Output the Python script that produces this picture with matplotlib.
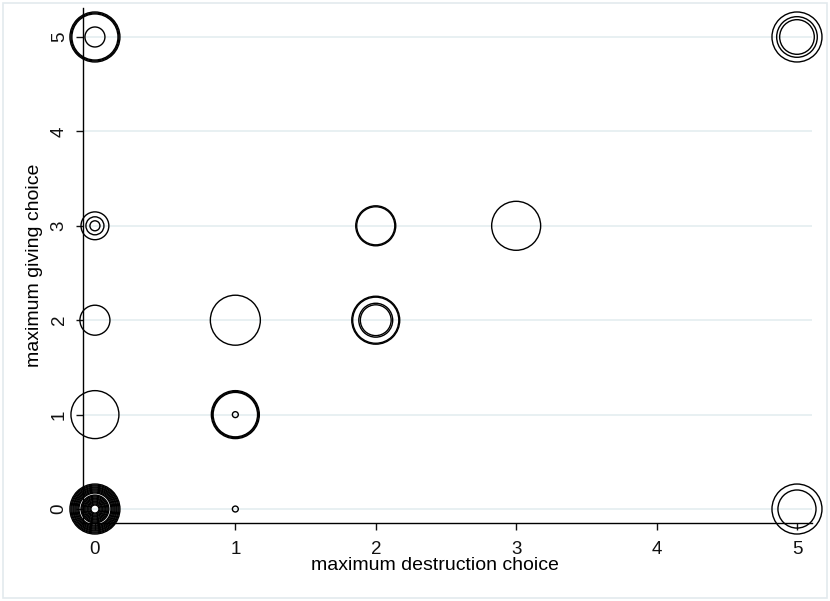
import matplotlib
matplotlib.use("Agg")
import matplotlib.pyplot as plt
from matplotlib.patches import Rectangle

plt.rcParams['font.family'] = ['Liberation Sans', 'DejaVu Sans']

# observations: (destruction choice, giving choice, weight); each weight drawn as its own ring
x_vals = [0, 0, 0, 0,
          5, 5, 5,
          0, 0, 0,
          2, 2,
          3,
          0,
          1,
          2, 2, 2, 2,
          0,
          1, 1, 1, 1,
          0, 0, 0, 0, 0, 0, 0, 0, 0, 0, 0, 0, 0, 0, 0, 0, 0, 0, 0, 0, 0,
          1,
          5, 5]
y_vals = [5, 5, 5, 5,
          5, 5, 5,
          3, 3, 3,
          3, 3,
          3,
          2,
          2,
          2, 2, 2, 2,
          1,
          1, 1, 1, 1,
          0, 0, 0, 0, 0, 0, 0, 0, 0, 0, 0, 0, 0, 0, 0, 0, 0, 0, 0, 0, 0,
          0,
          0, 0]
weights = [100, 92, 85, 16,
           100, 66, 48,
           31, 13, 4,
           64, 58,
           96,
           36,
           100,
           92, 85, 46, 38,
           92,
           92, 85, 79, 1.4,
           100, 92, 85, 77, 71, 64, 58, 52, 46, 41, 31, 27, 23, 19, 16, 13, 10, 8, 6, 4, 2.6,
           1.4,
           100, 58]

x_ticks = [0, 1, 2, 3, 4, 5]
y_ticks = [0, 1, 2, 3, 4, 5]
x_label = "maximum destruction choice"
y_label = "maximum giving choice"

fig = plt.figure(figsize=(8.3, 6.01), dpi=100)
fig.patch.set_facecolor('white')
fig.patches.append(Rectangle((3/830, 3/601), 824/830, 595/601, transform=fig.transFigure,
                             fill=False, edgecolor='#e3eaee', linewidth=1.2))

ax = fig.add_axes([83/830, 78/601, (812-83)/830, (523-8)/601])
ax.set_xlim(-0.085, 5.107)
ax.set_ylim(-0.148, 5.307)

for yt in y_ticks:
    ax.axhline(yt, color='#e4edf0', linewidth=1.2, zorder=0)

s_vals = [(w * 12.96) for w in weights]
ax.scatter(x_vals, y_vals, s=s_vals, facecolors='none', edgecolors='black',
           linewidths=1.0, clip_on=False, zorder=3)

for side in ['top', 'right']:
    ax.spines[side].set_visible(False)
for side in ['left', 'bottom']:
    ax.spines[side].set_linewidth(1.0)
    ax.spines[side].set_color('black')

ax.set_xticks(x_ticks)
ax.set_yticks(y_ticks)
ax.set_xticklabels([str(t) for t in x_ticks])
ax.set_yticklabels([str(t) for t in y_ticks], rotation=90, va='center')
ax.tick_params(axis='both', direction='out', length=5, width=1, labelsize=13.5, colors='#111111')
ax.tick_params(axis='x', pad=8)
ax.tick_params(axis='y', pad=6)

ax.set_xlabel(x_label, fontsize=14)
ax.set_ylabel(y_label, fontsize=14)
ax.xaxis.set_label_coords((435 - 83) / 729, -(566 - 523) / 515)
ax.xaxis.label.set_va('center')
ax.yaxis.set_label_coords(-(83 - 35) / 729, 0.5)
ax.yaxis.label.set_va('center')

fig.savefig("out.png", dpi=100)
